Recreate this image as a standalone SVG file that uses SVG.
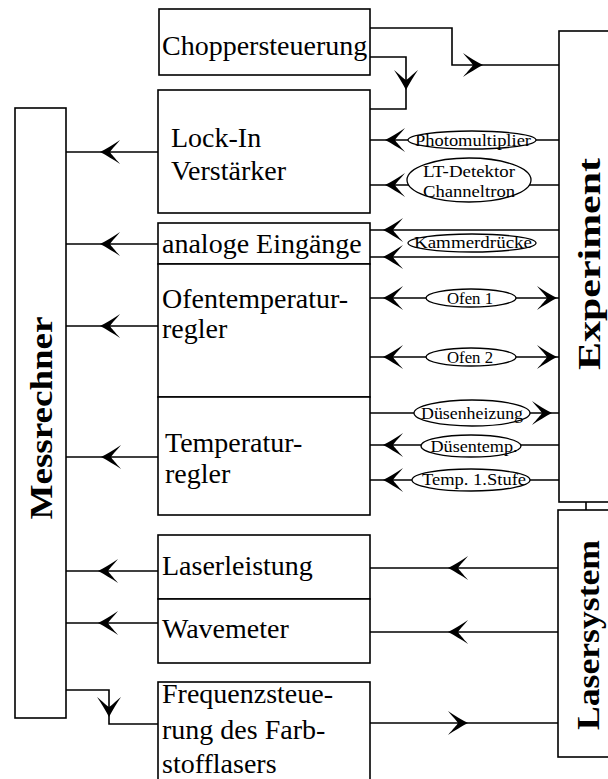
<svg xmlns="http://www.w3.org/2000/svg" xmlns:xlink="http://www.w3.org/1999/xlink" width="608" height="779" viewBox="0 0 608 779">
<style>
.box{fill:#fff;stroke:#000;stroke-width:1.6}
.ln{fill:none;stroke:#000;stroke-width:1.6}
.el{fill:#fff;stroke:#000;stroke-width:1.3}
.t{font-family:"Liberation Serif","Times New Roman",serif;font-size:28px;fill:#000}
.s{font-family:"Liberation Serif","Times New Roman",serif;font-size:16px;fill:#000;text-anchor:middle}
.b{font-family:"Liberation Serif","Times New Roman",serif;font-size:31px;font-weight:bold;fill:#000;text-anchor:middle}
</style>
<defs>
<path id="ah" d="M0,0 C6,-3 14,-8 20,-12 C15,-6 11,-2 10,0 C11,2 15,6 20,12 C14,8 6,3 0,0 Z" fill="#000"/>
</defs>
<rect width="608" height="779" fill="#fff"/>

<g id="connectors">
  <line class="ln" x1="66" y1="152" x2="158" y2="152"/>
  <use xlink:href="#ah" transform="translate(100,152)"/>
  <line class="ln" x1="66" y1="244" x2="158" y2="244"/>
  <use xlink:href="#ah" transform="translate(100,244)"/>
  <line class="ln" x1="66" y1="326" x2="158" y2="326"/>
  <use xlink:href="#ah" transform="translate(100,326)"/>
  <line class="ln" x1="66" y1="457" x2="158" y2="457"/>
  <use xlink:href="#ah" transform="translate(101,457)"/>
  <line class="ln" x1="66" y1="571" x2="158" y2="571"/>
  <use xlink:href="#ah" transform="translate(98,571)"/>
  <line class="ln" x1="66" y1="623" x2="158" y2="623"/>
  <use xlink:href="#ah" transform="translate(98,623)"/>
  <polyline class="ln" points="66,690 109,690 109,724 158,724"/>
  <use xlink:href="#ah" transform="translate(109,717) rotate(-90)"/>

  <polyline class="ln" points="370,28 452,28 452,65 559,65"/>
  <use xlink:href="#ah" transform="translate(483,65) rotate(180)"/>
  <polyline class="ln" points="370,57 406,57 406,109 370,109"/>
  <use xlink:href="#ah" transform="translate(406,90) rotate(-90)"/>

  <line class="ln" x1="370" y1="140" x2="559" y2="140"/>
  <use xlink:href="#ah" transform="translate(385,140)"/>
  <line class="ln" x1="370" y1="185" x2="559" y2="185"/>
  <use xlink:href="#ah" transform="translate(385,185)"/>
  <line class="ln" x1="370" y1="230" x2="559" y2="230"/>
  <use xlink:href="#ah" transform="translate(383,230)"/>
  <line class="ln" x1="370" y1="257" x2="559" y2="257"/>
  <use xlink:href="#ah" transform="translate(383,257)"/>
  <line class="ln" x1="370" y1="298" x2="559" y2="298"/>
  <use xlink:href="#ah" transform="translate(383,298)"/>
  <use xlink:href="#ah" transform="translate(557,298) rotate(180)"/>
  <line class="ln" x1="370" y1="357" x2="559" y2="357"/>
  <use xlink:href="#ah" transform="translate(383,357)"/>
  <use xlink:href="#ah" transform="translate(557,357) rotate(180)"/>
  <line class="ln" x1="370" y1="413" x2="559" y2="413"/>
  <use xlink:href="#ah" transform="translate(552,413) rotate(180)"/>
  <line class="ln" x1="370" y1="445" x2="559" y2="445"/>
  <use xlink:href="#ah" transform="translate(383,445)"/>
  <line class="ln" x1="370" y1="480" x2="559" y2="480"/>
  <use xlink:href="#ah" transform="translate(383,480)"/>

  <line class="ln" x1="586" y1="502" x2="586" y2="510"/>

  <line class="ln" x1="370" y1="568" x2="558" y2="568"/>
  <use xlink:href="#ah" transform="translate(448,568)"/>
  <line class="ln" x1="370" y1="632" x2="558" y2="632"/>
  <use xlink:href="#ah" transform="translate(448,632)"/>
  <line class="ln" x1="370" y1="723" x2="558" y2="723"/>
  <use xlink:href="#ah" transform="translate(468,723) rotate(180)"/>
</g>

<g id="labels">
  <ellipse class="el" cx="472" cy="140" rx="64" ry="9"/>
  <text class="s" x="473" y="145.5" textLength="116" lengthAdjust="spacingAndGlyphs">Photomultiplier</text>
  <ellipse class="el" cx="469" cy="180" rx="62" ry="22"/>
  <text class="s" x="469" y="177" textLength="92" lengthAdjust="spacingAndGlyphs">LT-Detektor</text>
  <text class="s" x="469" y="197" textLength="92" lengthAdjust="spacingAndGlyphs">Channeltron</text>
  <ellipse class="el" cx="472" cy="243" rx="64" ry="9"/>
  <text class="s" x="473" y="248" textLength="118" lengthAdjust="spacingAndGlyphs">Kammerdrücke</text>
  <ellipse class="el" cx="471" cy="298" rx="45" ry="9"/>
  <text class="s" x="470" y="303.5" textLength="46" lengthAdjust="spacingAndGlyphs">Ofen 1</text>
  <ellipse class="el" cx="471" cy="357" rx="45" ry="9"/>
  <text class="s" x="470" y="362.5" textLength="46" lengthAdjust="spacingAndGlyphs">Ofen 2</text>
  <ellipse class="el" cx="472" cy="413" rx="58" ry="13"/>
  <text class="s" x="472" y="418.5" textLength="102" lengthAdjust="spacingAndGlyphs">Düsenheizung</text>
  <ellipse class="el" cx="471" cy="446" rx="50" ry="11"/>
  <text class="s" x="474" y="451.5" textLength="87" lengthAdjust="spacingAndGlyphs">Düsentemp.</text>
  <ellipse class="el" cx="471" cy="480" rx="59" ry="11"/>
  <text class="s" x="474" y="485" textLength="104" lengthAdjust="spacingAndGlyphs">Temp. 1.Stufe</text>
</g>

<g id="messrechner">
  <rect class="box" x="15" y="108" width="51" height="610"/>
  <text class="b" transform="translate(52,418) rotate(-90)" textLength="203" lengthAdjust="spacingAndGlyphs">Messrechner</text>
</g>

<g id="chopper">
  <rect class="box" x="159" y="9" width="211" height="66"/>
  <text class="t" x="162" y="55">Choppersteuerung</text>
</g>

<g id="lockin">
  <rect class="box" x="158" y="90" width="212" height="123"/>
  <text class="t" x="171" y="147">Lock-In</text>
  <text class="t" x="171" y="180">Verstärker</text>
</g>

<g id="analog">
  <rect class="box" x="158" y="223" width="212" height="41"/>
  <text class="t" x="162" y="253">analoge Eingänge</text>
</g>

<g id="ofenregler">
  <rect class="box" x="158" y="264" width="212" height="133"/>
  <text class="t" x="162" y="308">Ofentemperatur-</text>
  <text class="t" x="162" y="338">regler</text>
</g>

<g id="tempregler">
  <rect class="box" x="158" y="397" width="212" height="118"/>
  <text class="t" x="165" y="452">Temperatur-</text>
  <text class="t" x="165" y="483">regler</text>
</g>

<g id="laserleistung">
  <rect class="box" x="158" y="535" width="212" height="64"/>
  <text class="t" x="162" y="575">Laserleistung</text>
</g>

<g id="wavemeter">
  <rect class="box" x="158" y="599" width="212" height="64"/>
  <text class="t" x="162" y="638">Wavemeter</text>
</g>

<g id="frequenz">
  <rect class="box" x="158" y="682" width="212" height="110"/>
  <text class="t" x="162" y="703">Frequenzsteue-</text>
  <text class="t" x="162" y="739">rung des Farb-</text>
  <text class="t" x="162" y="773">stofflasers</text>
</g>

<g id="experiment">
  <rect class="box" x="559" y="31" width="60" height="471"/>
  <text class="b" transform="translate(600,264) rotate(-90)" textLength="212" lengthAdjust="spacingAndGlyphs">Experiment</text>
</g>

<g id="lasersystem">
  <rect class="box" x="558" y="510" width="60" height="247"/>
  <text class="b" transform="translate(599,635) rotate(-90)" textLength="190" lengthAdjust="spacingAndGlyphs">Lasersystem</text>
</g>
</svg>
